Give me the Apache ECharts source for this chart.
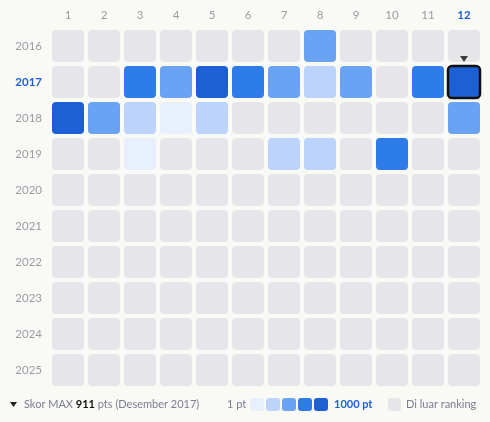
<!DOCTYPE html>
<html><head><meta charset="utf-8">
<script src="https://cdn.jsdelivr.net/npm/echarts@6/dist/echarts.min.js"></script>
<style>html,body{margin:0;padding:0;background:#f9f9f6;}#c{width:490px;height:422px;}</style>
</head><body><div id="c"></div>
<script>
const months = ['1','2','3','4','5','6','7','8','9','10','11','12'];
const years = ['2016','2017','2018','2019','2020','2021','2022','2023','2024','2025'];
// points per month (0 = outside ranking)
const pts2016 = [0,0,0,0,0,0,0,480,0,0,0,0];
const pts2017 = [0,0,700,500,880,700,480,300,500,0,700,911];
const pts2018 = [860,480,300,120,300,0,0,0,0,0,0,480];
const pts2019 = [0,0,120,0,0,0,300,300,0,700,0,0];
const pts2020 = [0,0,0,0,0,0,0,0,0,0,0,0];
const pts2021 = [0,0,0,0,0,0,0,0,0,0,0,0];
const pts2022 = [0,0,0,0,0,0,0,0,0,0,0,0];
const pts2023 = [0,0,0,0,0,0,0,0,0,0,0,0];
const pts2024 = [0,0,0,0,0,0,0,0,0,0,0,0];
const pts2025 = [0,0,0,0,0,0,0,0,0,0,0,0];
const maxMarker = ['12','2017'];
const legendMin = '1 pt', legendMax = '1000 pt';

const rows = [pts2016,pts2017,pts2018,pts2019,pts2020,pts2021,pts2022,pts2023,pts2024,pts2025];
const levels = [
  {min:1,max:200,color:'#e8f0fe'},
  {min:200,max:400,color:'#bcd3fb'},
  {min:400,max:600,color:'#6aa2f4'},
  {min:600,max:800,color:'#2e7bea'},
  {min:800,max:1001,color:'#1d5fd4'}
];
const EMPTY = '#e6e6ea';
function colorOf(v){ if(!v) return EMPTY; for(const l of levels){ if(v>=l.min && v<l.max) return l.color;} return levels[4].color; }
const data = [];
rows.forEach((r,yi)=>r.forEach((v,mi)=>data.push([mi,yi,v])));

const chart = echarts.init(document.getElementById('c'));
const FONT = 'Lato';
const grey = '#9c9aa3';
const AX = 11.5;
chart.setOption({
  backgroundColor:'#f9f9f6',
  animation:false,
  textStyle:{fontFamily:FONT},
  grid:{left:50,top:28,width:432,height:360},
  xAxis:{type:'category',data:months,position:'top',
    axisLine:{show:false},axisTick:{show:false},splitLine:{show:false},
    axisLabel:{interval:0,margin:7,fontSize:AX,fontFamily:FONT,color:grey,
      formatter:(v)=>v===maxMarker[0]?'{b|'+v+'}':v,
      rich:{b:{color:'#1d5fd4',fontWeight:'bold',fontSize:AX,fontFamily:FONT}}}},
  yAxis:{type:'category',data:years,inverse:true,
    axisLine:{show:false},axisTick:{show:false},splitLine:{show:false},
    axisLabel:{interval:0,margin:8,fontSize:AX,fontFamily:FONT,color:grey,
      formatter:(v)=>v===maxMarker[1]?'{b|'+v+'}':v,
      rich:{b:{color:'#1d5fd4',fontWeight:'bold',fontSize:AX,fontFamily:FONT}}}},
  series:[{
    type:'custom',
    data:data,
    encode:{x:0,y:1},
    renderItem:function(params,api){
      const c = api.coord([api.value(0),api.value(1)]);
      const s = api.size([1,1]);
      const w = s[0]-4, h = s[1]-4;
      const v = api.value(2);
      const isMax = months[api.value(0)]===maxMarker[0] && years[api.value(1)]===maxMarker[1];
      return {type:'rect',
        shape:{x:c[0]-w/2,y:c[1]-h/2,width:w,height:h,r:4},
        style:{fill:colorOf(v),stroke:isMax?'#111':null,lineWidth:isMax?2.5:0}};
    }
  },{
    type:'scatter',
    data:[[maxMarker[0],maxMarker[1]]],
    symbol:'triangle',symbolRotate:180,symbolSize:[8,6],
    symbolOffset:[0,-23],
    itemStyle:{color:'#111'},z:5
  }],
  graphic:[
    {type:'polygon',shape:{points:[[10,402],[17,402],[13.5,407]]},style:{fill:'#222'}},
    {type:'text',left:24,top:399,style:{
      text:'Skor MAX {b|911} pts (Desember 2017)',
      fill:'#7b7d92',font:'11px '+FONT,
      rich:{b:{fill:'#111',fontWeight:'bold',fontSize:11,fontFamily:FONT}}}},
    {type:'text',left:227,top:399,style:{text:legendMin,fill:'#7b7d92',font:'11px '+FONT}},
    ...levels.map((l,i)=>({type:'rect',shape:{x:250+i*16,y:398,width:14,height:13,r:3},style:{fill:l.color}})),
    {type:'text',left:334,top:399,style:{text:legendMax,fill:'#1d5fd4',font:'bold 11px '+FONT}},
    {type:'rect',shape:{x:388,y:398,width:13,height:13,r:3},style:{fill:EMPTY}},
    {type:'text',left:406,top:399,style:{text:'Di luar ranking',fill:'#7b7d92',font:'11px '+FONT}}
  ]
});
</script></body></html>
